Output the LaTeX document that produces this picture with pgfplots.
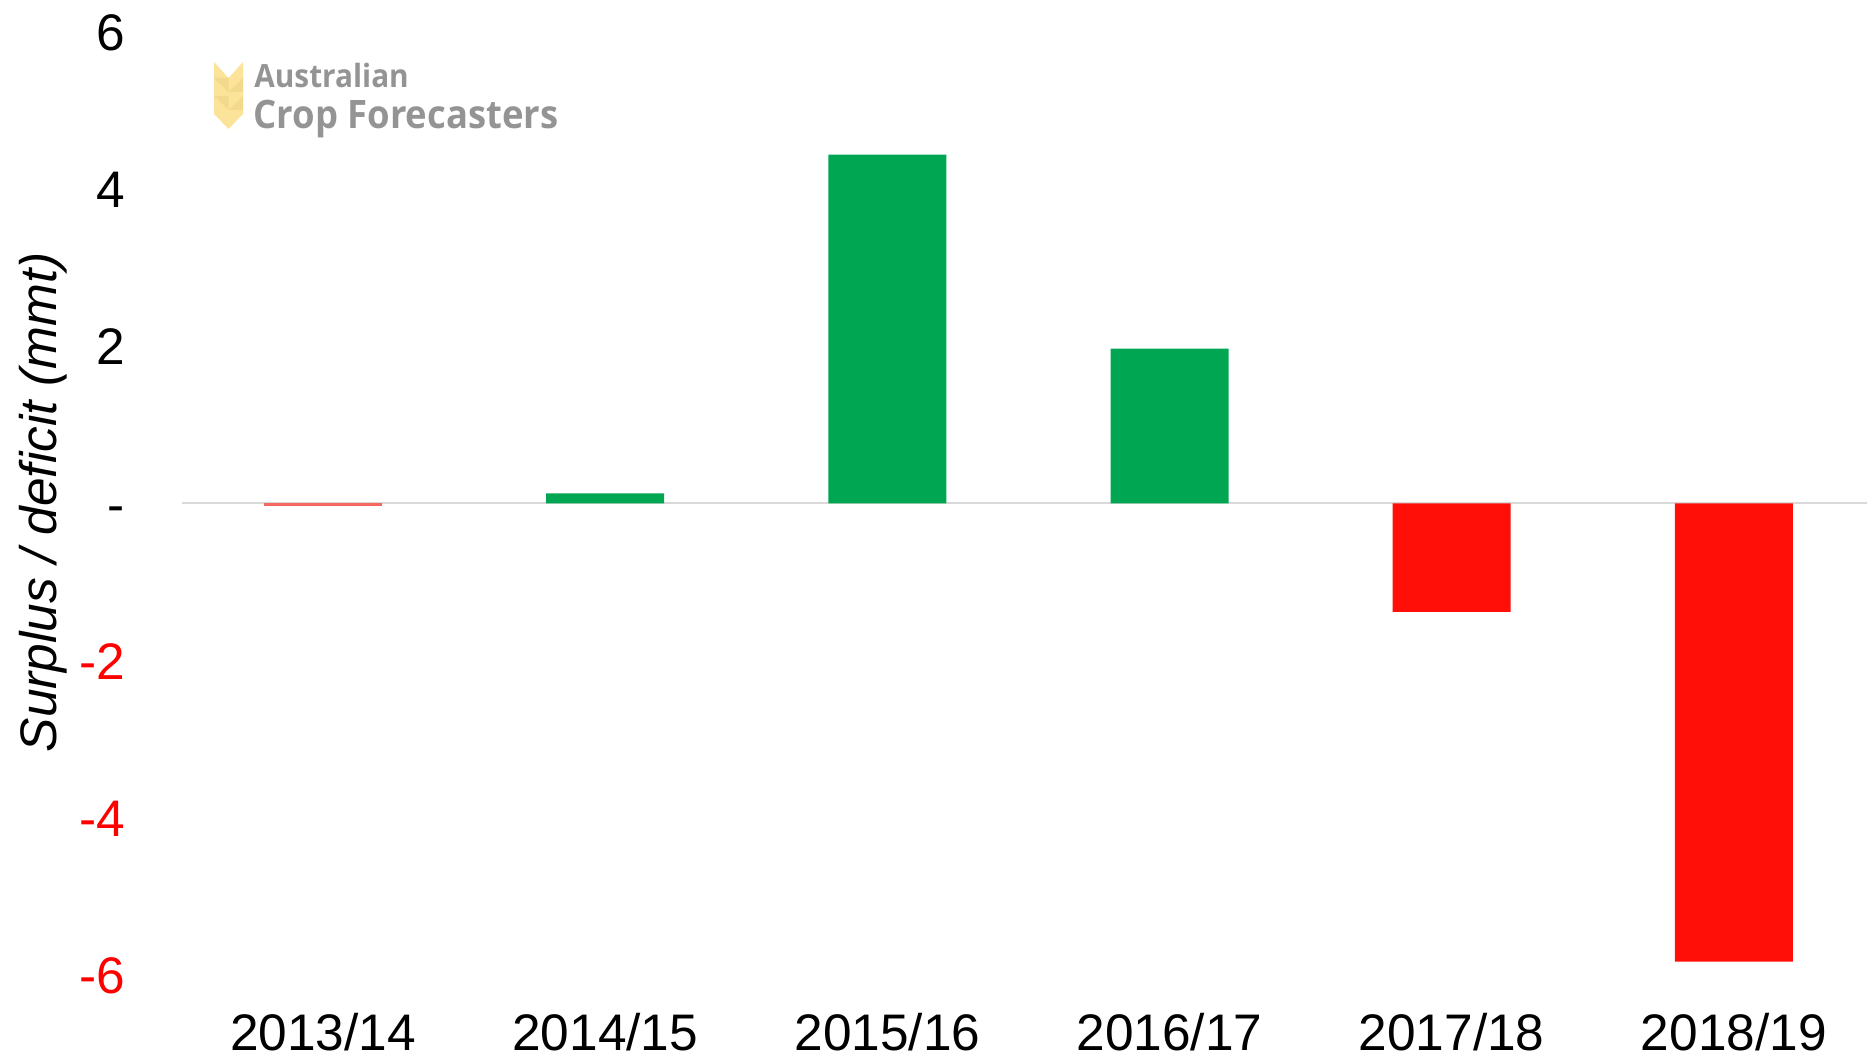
\documentclass[border=0pt]{standalone}
\usepackage{fontspec}
\setmainfont{Liberation Sans}
\newfontfamily\logofont[FakeStretch=0.93]{Open Sans}
\usepackage{pgfplots}
\pgfplotsset{compat=1.18}
\definecolor{barg}{HTML}{00A651}
\definecolor{barr}{HTML}{FF0F07}
\definecolor{barl}{HTML}{F4685F}
\definecolor{zline}{HTML}{D9D9D9}
\definecolor{logog}{HTML}{949494}
\definecolor{logoy}{HTML}{FBE49A}
\definecolor{logod}{HTML}{F3D98C}
\begin{document}
\begin{tikzpicture}
\path[use as bounding box] (0,0) rectangle (933.5pt,-529.5pt);
\begin{axis}[
  at={(91pt,-511pt)}, anchor=south west,
  scale only axis, width=842.5pt, height=511pt,
  xmin=-0.5, xmax=5.472, ymin=-6.597, ymax=6.406,
  axis line style={draw=none}, tick style={draw=none},
  major tick length=0pt,
  xtick={0,1,2,3,4,5},
  xticklabels={2013/14,2014/15,2015/16,2016/17,2017/18,2018/19},
  ytick={-6,-4,-2,0,2,4,6},
  yticklabels={\textcolor{red}{-6},\textcolor{red}{-4},\textcolor{red}{-2},\smash{\raisebox{-9.2pt}{-}},2,4,6},
  tick label style={font=\fontsize{25.7}{30}\selectfont},
  xticklabel style={anchor=base, yshift=-14.3pt},
  yticklabel style={anchor=east, xshift=-25pt, yshift=-0.3pt},
  ylabel={\itshape Surplus / deficit (mmt)},
  ylabel style={font=\fontsize{25.7}{30}\selectfont, anchor=center, overlay},
  every axis y label/.append style={at={(axis description cs:-0.0821,0.5085)}},
  ybar, bar shift=0pt, bar width=59pt, clip=false,
]
\addplot[ybar=0pt, sharp plot, draw=zline, line width=1pt, fill=none] coordinates {(-0.5,0) (5.472,0)};
\addplot[fill=barg, draw=none] coordinates {(1,0.13) (2,4.44) (3,1.97)};
\addplot[fill=barl, draw=none] coordinates {(0,-0.03)};
\addplot[fill=barr, draw=none] coordinates {(4,-1.38) (5,-5.83)};
\end{axis}
\begin{scope}[x=0.5pt,y=-0.5pt]
\fill[logoy] (214,62) -- (228.5,78) -- (243,62) -- (243,114) -- (228.5,129) -- (214,114) -- cycle;
\fill[logod] (214,78) -- (228.5,92) -- (228.5,78) -- cycle;
\fill[logod] (243,78) -- (228.5,92) -- (243,92) -- cycle;
\fill[logod] (214,96) -- (228.5,110) -- (228.5,96) -- cycle;
\fill[logod] (243,96) -- (228.5,110) -- (243,110) -- cycle;
\node[anchor=base west, inner sep=0pt, text=logog, font=\logofont\bfseries\fontsize{16}{20}\selectfont] at (254,88) {Australian};
\node[anchor=base west, inner sep=0pt, text=logog, font=\logofont\bfseries\fontsize{19.6}{22}\selectfont] at (253,129) {Crop Forecasters};
\end{scope}
\end{tikzpicture}
\end{document}
